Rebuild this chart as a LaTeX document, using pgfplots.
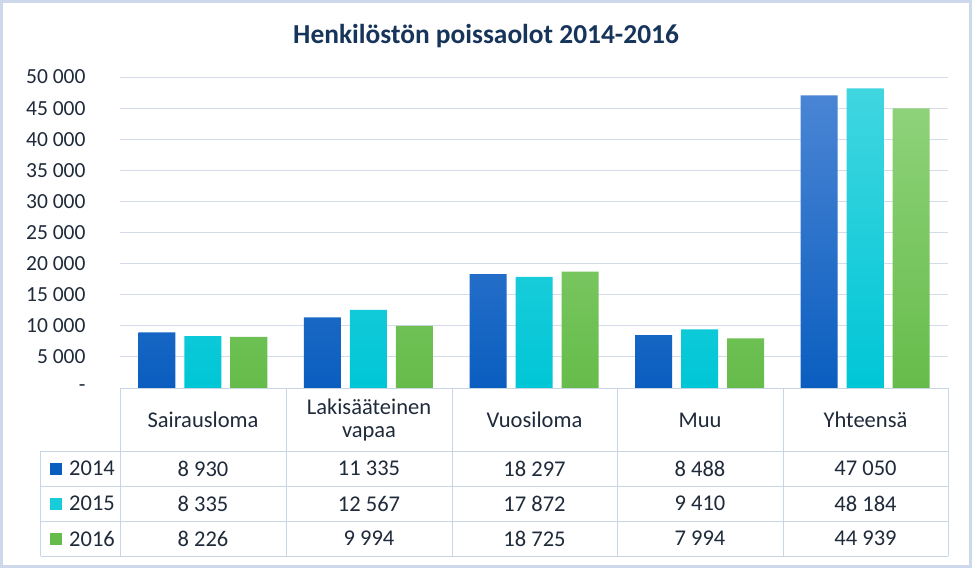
\documentclass[border=0pt]{standalone}
\usepackage{fontspec}
\setmainfont{Carlito}
\usepackage{pgfplots}
\usepackage{pgfplotstable}
\pgfplotsset{compat=1.18}

\definecolor{txt}{HTML}{1F2A3A}
\definecolor{ttl}{HTML}{17345A}
\definecolor{gridc}{HTML}{D3DCE8}
\definecolor{tblc}{HTML}{C8D5E4}
\definecolor{frame}{HTML}{CDD9EB}
\definecolor{aTop}{HTML}{4A85D4}
\definecolor{aBot}{HTML}{0A5EC0}
\definecolor{bTop}{HTML}{40D6E0}
\definecolor{bBot}{HTML}{00C6D6}
\definecolor{cTop}{HTML}{8ED27A}
\definecolor{cBot}{HTML}{66BC4A}

% poissaolot: categories at 0.5, 1.5, ...
\pgfplotstableread{
x    a     b     c
0.5  8930  8335  8226
1.5  11335 12567 9994
2.5  18297 17872 18725
3.5  8488  9410  7994
4.5  47050 48184 44939
}\datatable

\newcommand{\tickfont}{\fontsize{21.5}{24}\selectfont}
\newcommand{\bigfont}{\fontsize{22.5}{25}\selectfont}

\begin{document}
\begin{tikzpicture}
% 1pt = 1px of the reference; axis origin at px (120,388)
\useasboundingbox (-120pt,-180pt) rectangle (852pt,388pt);
\fill[white] (-120pt,-180pt) rectangle (852pt,388pt);

\begin{axis}[
    at={(0pt,0pt)}, anchor=south west,
    scale only axis,
    width=828pt, height=311pt,
    xmin=0, xmax=5, ymin=0, ymax=50000,
    clip=false,
    axis line style={draw=none},
    xtick=\empty,
    ytick={0,5000,...,50000},
    scaled y ticks=false,
    yticklabels={{-\hspace{12pt}},5 000,10 000,15 000,20 000,25 000,30 000,35 000,40 000,45 000,50 000},
    yticklabel style={font=\tickfont, text=txt, xshift=-31pt},
    major tick length=0pt,
    ymajorgrids,
    grid style={draw=gridc, line width=1pt},
    ybar, bar width=37pt,
]
\addplot[draw=none, top color=aTop, bottom color=aBot, bar shift=-46pt]
    table[x=x, y=a] {\datatable};
\addplot[draw=none, top color=bTop, bottom color=bBot, bar shift=0pt]
    table[x=x, y=b] {\datatable};
\addplot[draw=none, top color=cTop, bottom color=cBot, bar shift=46pt]
    table[x=x, y=c] {\datatable};
\end{axis}

% title
\node[font=\fontsize{27.4}{31}\selectfont\bfseries, text=ttl] at (366pt,352pt)
    {Henkilöstön poissaolot 2014-2016};

% data table grid
\begin{scope}[draw=tblc, line width=1pt]
\draw (0pt,0pt) -- (828pt,0pt);
\foreach \y in {-63,-98,-133,-168} \draw (-79pt,\y pt) -- (828pt,\y pt);
\draw (-79pt,-63pt) -- (-79pt,-168pt);
\foreach \x in {0,166,332,497,663,828} \draw (\x pt,0pt) -- (\x pt,-168pt);
\end{scope}

\begin{scope}[every node/.style={font=\bigfont, text=txt, inner sep=0pt}]
\node at (83pt,-32pt) {Sairausloma};
\node[align=center, font=\fontsize{22.5}{23}\selectfont] at (249pt,-32pt) {Lakisääteinen\\vapaa};
\node at (414.5pt,-32pt) {Vuosiloma};
\node at (580pt,-32pt) {Muu};
\node at (745.5pt,-32pt) {Yhteensä};

\fill[aBot] (-70pt,-86.5pt) rectangle (-58pt,-74.5pt);
\fill[bBot!90!white] (-70pt,-121.5pt) rectangle (-58pt,-109.5pt);
\fill[cBot] (-70pt,-156.5pt) rectangle (-58pt,-144.5pt);
\node[anchor=west] at (-51pt,-80.5pt) {2014};
\node[anchor=west] at (-51pt,-115.5pt) {2015};
\node[anchor=west] at (-51pt,-150.5pt) {2016};

\node at (83pt,-80.5pt) {8 930};
\node at (249pt,-80.5pt) {11 335};
\node at (414.5pt,-80.5pt) {18 297};
\node at (580pt,-80.5pt) {8 488};
\node at (745.5pt,-80.5pt) {47 050};

\node at (83pt,-115.5pt) {8 335};
\node at (249pt,-115.5pt) {12 567};
\node at (414.5pt,-115.5pt) {17 872};
\node at (580pt,-115.5pt) {9 410};
\node at (745.5pt,-115.5pt) {48 184};

\node at (83pt,-150.5pt) {8 226};
\node at (249pt,-150.5pt) {9 994};
\node at (414.5pt,-150.5pt) {18 725};
\node at (580pt,-150.5pt) {7 994};
\node at (745.5pt,-150.5pt) {44 939};
\end{scope}

% outer frame
\draw[frame, line width=3pt] (-118.5pt,-178.5pt) rectangle (850.5pt,386.5pt);
\end{tikzpicture}
\end{document}
